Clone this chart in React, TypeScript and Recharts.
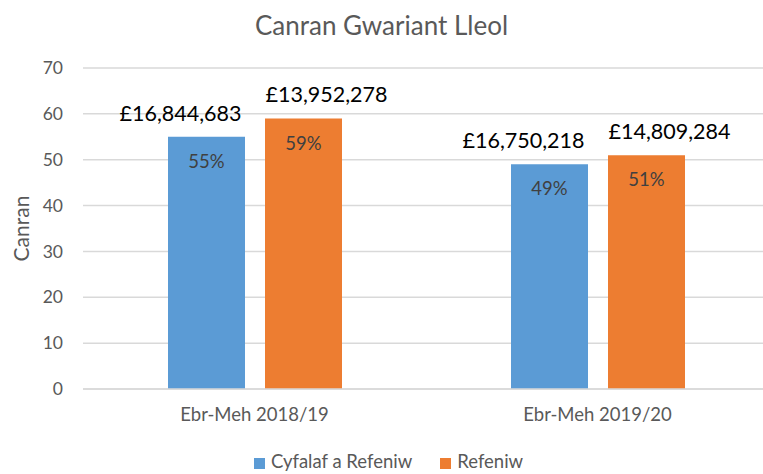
import React from 'react';
import {
    BarChart,
    Bar,
    XAxis,
    YAxis,
    CartesianGrid,
    Legend,
    LabelList
} from 'recharts';

const categories = ['Ebr-Meh 2018/19', 'Ebr-Meh 2019/20'];
const capitalRevenue = [55, 49];
const revenue = [59, 51];
const capitalRevenueSpend = ['£16,844,683', '£16,750,218'];
const revenueSpend = ['£13,952,278', '£14,809,284'];
const yTicks = [0, 10, 20, 30, 40, 50, 60, 70];

const FONT = 'Lato, "Open Sans", sans-serif';
const GREY = '#595959';

const data = categories.map((name, i) => ({
    name,
    capital: capitalRevenue[i],
    revenue: revenue[i],
    capitalSpend: capitalRevenueSpend[i],
    revenueSpend: revenueSpend[i],
}));

// spend labels sit above the bars, nudged sideways so the pair doesn't collide
const spendLabel = (dx: number) => (props: any) => {
    const { x, y, width, value } = props;
    return (
        <text
            x={Number(x) + Number(width) / 2 + dx}
            y={Number(y) - 24}
            textAnchor="middle"
            dominantBaseline="central"
            fill="#000"
            fontSize={21.5}
            fontFamily={FONT}
        >
            {value}
        </text>
    );
};

const App: React.FC = () => {
    return (
        <div style={{ position: 'absolute', left: 0, top: 0, width: 763, height: 474, overflow: 'hidden', background: '#fff', fontFamily: FONT }}>
            <div style={{ position: 'absolute', top: 8, width: 763, textAlign: 'center', fontSize: 26, color: GREY, lineHeight: '34px' }}>
                Canran Gwariant Lleol
            </div>
            <BarChart
                width={769}
                height={474}
                data={data}
                margin={{ top: 68, right: 0, left: 0, bottom: 0 }}
                barGap={20}
                barSize={77}
            >
                <CartesianGrid vertical={false} stroke="#d9d9d9" strokeWidth={1.5} />
                <XAxis
                    dataKey="name"
                    tickLine={false}
                    axisLine={{ stroke: '#d9d9d9', strokeWidth: 1.5 }}
                    tickSize={0}
                    tickMargin={19}
                    height={59}
                    tick={{ fill: GREY, fontSize: 18.5, fontFamily: FONT }}
                />
                <YAxis
                    width={83}
                    domain={[0, 70]}
                    ticks={yTicks}
                    tickLine={false}
                    axisLine={false}
                    tickSize={0}
                    tickMargin={20}
                    tick={{ fill: GREY, fontSize: 17.5, fontFamily: FONT }}
                    label={{ value: 'Canran', angle: -90, position: 'insideLeft', offset: 22, style: { textAnchor: 'middle', fill: GREY, fontSize: 21, fontFamily: FONT } }}
                />
                <Legend
                    verticalAlign="bottom"
                    iconType="square"
                    iconSize={11}
                    wrapperStyle={{ height: 26, lineHeight: '26px', paddingLeft: 18 }}
                    formatter={(value: string) => <span style={{ color: GREY, fontSize: 18.5, fontFamily: FONT, marginRight: 18, marginLeft: 2 }}>{value}</span>}
                />
                <Bar dataKey="capital" name="Cyfalaf a Refeniw" fill="#5b9bd5" isAnimationActive={false}>
                    <LabelList dataKey="capital" position="insideTop" offset={18} formatter={(v: number) => `${v}%`} style={{ fill: '#404040', fontSize: 18.5, fontFamily: FONT }} />
                    <LabelList dataKey="capitalSpend" content={spendLabel(-26)} />
                </Bar>
                <Bar dataKey="revenue" name="Refeniw" fill="#ed7d31" isAnimationActive={false}>
                    <LabelList dataKey="revenue" position="insideTop" offset={18} formatter={(v: number) => `${v}%`} style={{ fill: '#404040', fontSize: 18.5, fontFamily: FONT }} />
                    <LabelList dataKey="revenueSpend" content={spendLabel(23)} />
                </Bar>
            </BarChart>
        </div>
    );
};

export default App;
